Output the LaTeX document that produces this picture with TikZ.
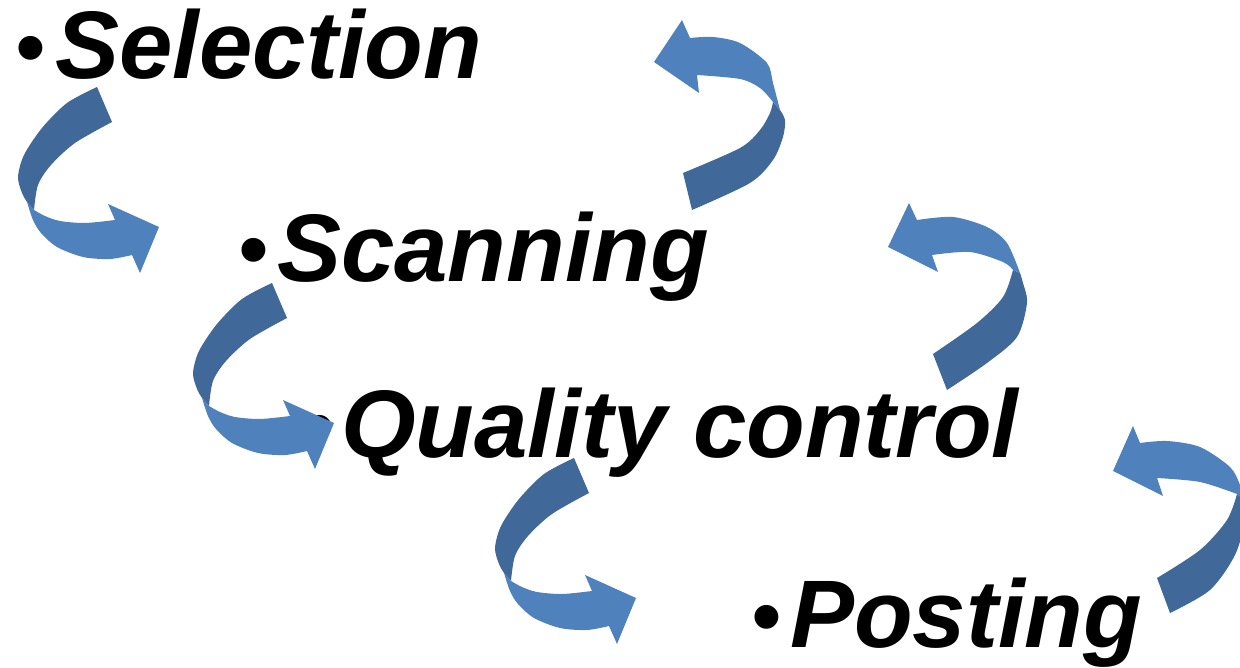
\documentclass[tikz,border=0pt]{standalone}
\usepackage{fontspec}
\setmainfont{Liberation Sans}
\definecolor{arrowlight}{HTML}{4F81BD}
\definecolor{arrowdark}{HTML}{406898}
\tikzset{
  steptext/.style={anchor=base west, inner sep=0pt, font=\fontsize{96}{100}\selectfont\bfseries\itshape},
  bulletmark/.style={anchor=base west, inner sep=0pt, font=\fontsize{88}{90}\selectfont},
  darkpart/.style={fill=arrowdark},
  lightpart/.style={fill=arrowlight}
}
\newcommand{\downarrowshape}{%
  \fill[darkpart] plot[smooth] coordinates {(97,87) (67,103) (42,128) (24,155) (18,177) (22,193) (27,202)}
    -- (34,210) -- plot[smooth] coordinates {(34,210) (38,185) (51,165) (75,143) (112,122)} -- cycle;
  \fill[lightpart] plot[smooth] coordinates {(27,202) (33,220) (41,233) (57,247) (83,257) (110,259) (132,255)}
    -- (140,273) -- (159,227) -- (108,204) -- (115,220)
    -- plot[smooth] coordinates {(115,220) (85,223) (60,221) (45,216) (34,210)} -- cycle;
}
\begin{document}
\begin{tikzpicture}[x=1pt,y=-1pt]
\useasboundingbox (0,0) rectangle (1240,668);
\clip (0,0) rectangle (1240,668);
% texts
\node[bulletmark] (b1) at (15.3,78) {•};
\node[steptext] (sel) at (55,79) {Selection};
\node[bulletmark] (b2) at (238.6,280) {•};
\node[steptext] (scan) at (277,282) {Scanning};
\node[bulletmark] (b3) at (304.6,456) {•};
\node[steptext] (qc) at (341,457) {Quality control};
\node[bulletmark] (b4) at (751,646) {•};
\node[steptext] (post) at (790,647) {Posting};
% down-right arrows
\begin{scope}\downarrowshape\end{scope}
\begin{scope}[shift={(175,196)}]\downarrowshape\end{scope}
\begin{scope}[shift={(477,371)}]\downarrowshape\end{scope}
% up-left arrow A
\fill[darkpart] plot[smooth] coordinates {(692,210) (750,183) (773,160) (783,137) (785,120) (780,110)}
  -- (773,102) -- plot[smooth] coordinates {(773,102) (770,113) (760,130) (740,148) (683,173)} -- cycle;
\fill[lightpart] plot[smooth] coordinates {(780,110) (773,83) (767,63) (740,43) (713,37) (690,38)}
  -- (682,20) -- (654,62) -- (699,93) -- (697,75)
  -- plot[smooth] coordinates {(697,75) (740,79) (760,88) (773,102)} -- cycle;
% up-left arrow B
\fill[darkpart] plot[smooth] coordinates {(947,390) (987,363) (1017,337) (1027,303) (1023,283) (1020,273)}
  -- (1013,270) -- plot[smooth] coordinates {(1013,270) (1003,297) (977,323) (933,354)} -- cycle;
\fill[lightpart] plot[smooth] coordinates {(1020,273) (1007,243) (987,227) (953,217) (917,220)}
  -- (909,203) -- (888,247) -- (938,272) -- (932,255)
  -- plot[smooth] coordinates {(932,255) (970,252) (1003,262) (1013,270)} -- cycle;
% up-left arrow C
\fill[darkpart] plot[smooth] coordinates {(1170,613) (1210,590) (1235,555) (1245,520) (1244,500)}
  -- (1237,494) -- plot[smooth] coordinates {(1237,494) (1227,520) (1200,550) (1157,578)} -- cycle;
\fill[lightpart] plot[smooth] coordinates {(1244,500) (1240,485) (1230,467) (1200,447) (1167,441) (1140,443)}
  -- (1133,426) -- (1113,471) -- (1163,496) -- (1157,478)
  -- plot[smooth] coordinates {(1157,478) (1200,482) (1237,494)} -- cycle;
\end{tikzpicture}
\end{document}
